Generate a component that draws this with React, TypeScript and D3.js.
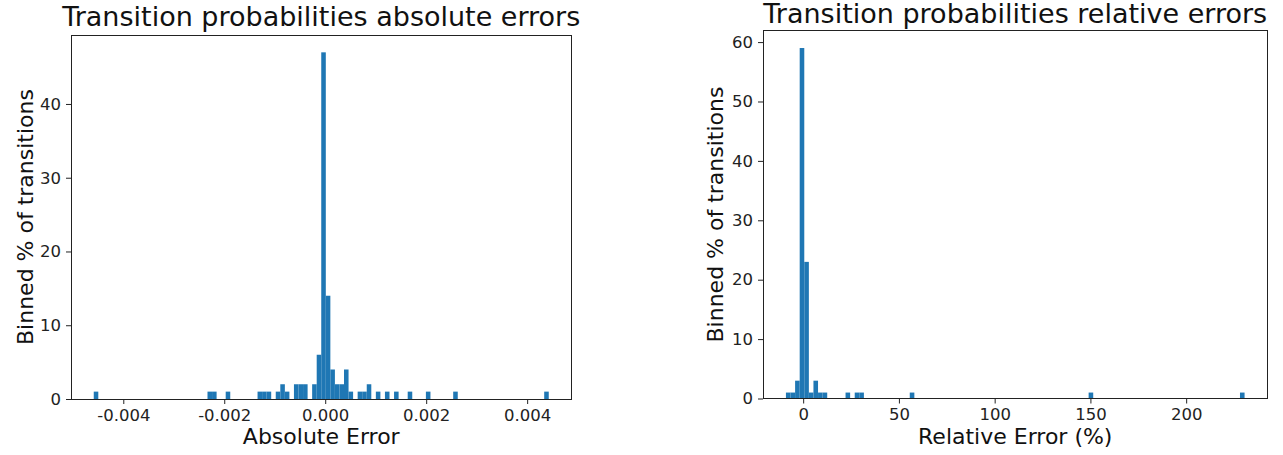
import { useEffect, useRef } from "react"
import * as d3 from "d3"

// absolute error histogram: 100 bins between min and max error
const absRange = [-0.004585, 0.004428]
const absBinIndex = [0, 25, 26, 29, 36, 37, 38, 40, 41, 42, 44, 45, 46, 48, 49, 50, 51, 52, 53, 54, 55, 56, 58, 59, 60, 62, 64, 66, 69, 73, 79, 99]
const absBinValue = [1, 1, 1, 1, 1, 1, 1, 1, 2, 1, 2, 2, 2, 2, 6, 47, 14, 4, 2, 2, 4, 1, 1, 1, 2, 1, 1, 1, 1, 1, 1, 1]
const absXTicks = [-0.004, -0.002, 0, 0.002, 0.004]
const absYTicks = [0, 10, 20, 30, 40]

// relative error histogram (%)
const relRange = [-9.0, 230.5]
const relBinIndex = [0, 1, 2, 3, 4, 5, 6, 7, 8, 13, 15, 16, 27, 66, 99]
const relBinValue = [1, 1, 3, 59, 23, 1, 3, 1, 1, 1, 1, 1, 1, 1, 1]
const relXTicks = [0, 50, 100, 150, 200]
const relYTicks = [0, 10, 20, 30, 40, 50, 60]

const BIN_COUNT = 100
const FONT = "DejaVu Sans, Liberation Sans, sans-serif"
const BAR = "#1f77b4"

type Panel = {
    left: number
    top: number
    right: number
    bottom: number
    range: number[]
    binIndex: number[]
    binValue: number[]
    xTicks: number[]
    yTicks: number[]
    xFormat: (d: number) => string
    title: string
    titleY: number
    xLabel: string
    yLabelX: number
}

function drawPanel(svg: d3.Selection<SVGSVGElement, unknown, null, undefined>, p: Panel) {
    const innerW = p.right - p.left
    const innerH = p.bottom - p.top
    const [lo, hi] = p.range
    const pad = (hi - lo) * 0.05
    const binW = (hi - lo) / BIN_COUNT

    const x = d3.scaleLinear().domain([lo - pad, hi + pad]).range([0, innerW])
    const yMax = (d3.max(p.binValue) ?? 1) * 1.05
    const y = d3.scaleLinear().domain([0, yMax]).range([innerH, 0])

    const g = svg.append("g").attr("transform", `translate(${p.left},${p.top})`)

    const bins = p.binIndex.map((b, i) => ({ x0: lo + b * binW, x1: lo + (b + 1) * binW, v: p.binValue[i] }))

    g.append("g")
        .selectAll("rect")
        .data(bins)
        .join("rect")
        .attr("x", d => x(d.x0))
        .attr("width", d => x(d.x1) - x(d.x0))
        .attr("y", d => y(d.v))
        .attr("height", d => innerH - y(d.v))
        .attr("fill", BAR)

    const xAxis = g.append("g")
        .attr("transform", `translate(0,${innerH})`)
        .call(d3.axisBottom(x).tickValues(p.xTicks).tickFormat(d => p.xFormat(+d)).tickSize(5).tickPadding(5).tickSizeOuter(0))
    const yAxis = g.append("g")
        .call(d3.axisLeft(y).tickValues(p.yTicks).tickFormat(d3.format("d")).tickSize(5).tickPadding(5).tickSizeOuter(0))

    for (const ax of [xAxis, yAxis]) {
        ax.attr("font-family", FONT).attr("font-size", 16.5)
        ax.select(".domain").remove()
        ax.selectAll("line").attr("stroke", "#222")
        ax.selectAll("text").attr("fill", "#222")
    }

    g.append("rect")
        .attr("x", 0)
        .attr("y", 0)
        .attr("width", innerW)
        .attr("height", innerH)
        .attr("fill", "none")
        .attr("stroke", "#222")
        .attr("stroke-width", 1)
        .attr("shape-rendering", "crispEdges")

    svg.append("text")
        .attr("x", p.left + innerW / 2)
        .attr("y", p.titleY)
        .attr("text-anchor", "middle")
        .attr("font-family", FONT)
        .attr("font-size", 27)
        .attr("fill", "#111")
        .text(p.title)

    svg.append("text")
        .attr("x", p.left + innerW / 2)
        .attr("y", 444)
        .attr("text-anchor", "middle")
        .attr("font-family", FONT)
        .attr("font-size", 22)
        .attr("fill", "#111")
        .text(p.xLabel)

    svg.append("text")
        .attr("transform", `translate(${p.yLabelX},${p.top + innerH / 2}) rotate(-90)`)
        .attr("text-anchor", "middle")
        .attr("font-family", FONT)
        .attr("font-size", 22)
        .attr("fill", "#111")
        .text("Binned % of transitions")
}

export default function App() {
    const ref = useRef<SVGSVGElement>(null)

    useEffect(() => {
        const host = ref.current
        if (!host) return
        const svg = d3.select(host)
        svg.selectAll("*").remove()

        drawPanel(svg, {
            left: 71, top: 35, right: 571.5, bottom: 399,
            range: absRange, binIndex: absBinIndex, binValue: absBinValue,
            xTicks: absXTicks, yTicks: absYTicks,
            xFormat: d => d.toFixed(3),
            title: "Transition probabilities absolute errors",
            titleY: 26,
            xLabel: "Absolute Error",
            yLabelX: 33,
        })

        drawPanel(svg, {
            left: 763, top: 30.5, right: 1267.5, bottom: 398.5,
            range: relRange, binIndex: relBinIndex, binValue: relBinValue,
            xTicks: relXTicks, yTicks: relYTicks,
            xFormat: d => String(d),
            title: "Transition probabilities relative errors",
            titleY: 22.5,
            xLabel: "Relative Error (%)",
            yLabelX: 723,
        })
    }, [])

    return (
        <svg
            ref={ref}
            width={1283}
            height={455}
            style={{ position: "absolute", left: 0, top: 0, background: "#fff" }}
        />
    )
}
